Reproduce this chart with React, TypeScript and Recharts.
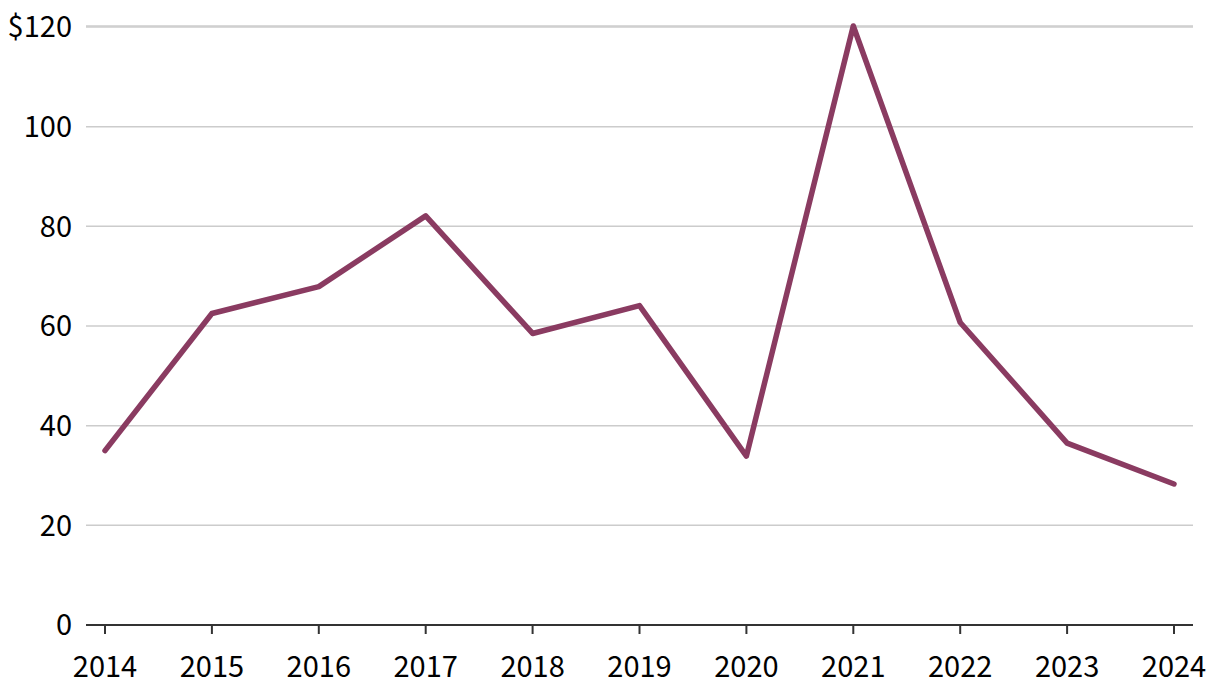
import { LineChart, Line, XAxis, YAxis, CartesianGrid } from "recharts";

const years = ["2014", "2015", "2016", "2017", "2018", "2019", "2020", "2021", "2022", "2023", "2024"];
const values = [35, 62.5, 67.9, 82.1, 58.5, 64.1, 33.9, 120.2, 60.7, 36.5, 28.3];
const yTicks = [0, 20, 40, 60, 80, 100, 120];

const FONT = "'Noto Sans CJK JP', 'Noto Sans', sans-serif";

export default function App() {
  const data = years.map((year, i) => ({ year, value: values[i] }));

  return (
    <div style={{ position: "absolute", left: 0, top: 0, background: "#fff" }}>
      <LineChart width={1220} height={692} data={data} margin={{ top: 26, right: 27, bottom: 0, left: 0 }}>
        <CartesianGrid vertical={false} stroke="#cccccc" strokeWidth={1.5} />
        <XAxis
          dataKey="year"
          height={67}
          padding={{ left: 19, right: 19 }}
          stroke="#333"
          strokeWidth={2}
          tickSize={9}
          tickMargin={22}
          tick={{ fontSize: 29, fill: "#000", fontFamily: FONT }}
          interval={0}
        />
        <YAxis
          domain={[0, 120]}
          ticks={yTicks}
          width={86}
          axisLine={false}
          tickLine={false}
          tickSize={0}
          tickMargin={14}
          tick={{ fontSize: 29, fill: "#000", fontFamily: FONT }}
          tickFormatter={(v) => (v === 120 ? `$${v}` : `${v}`)}
        />
        <Line
          type="linear"
          dataKey="value"
          stroke="#8a3b61"
          strokeWidth={5.5}
          strokeLinejoin="round"
          strokeLinecap="round"
          dot={false}
          isAnimationActive={false}
        />
      </LineChart>
    </div>
  );
}
